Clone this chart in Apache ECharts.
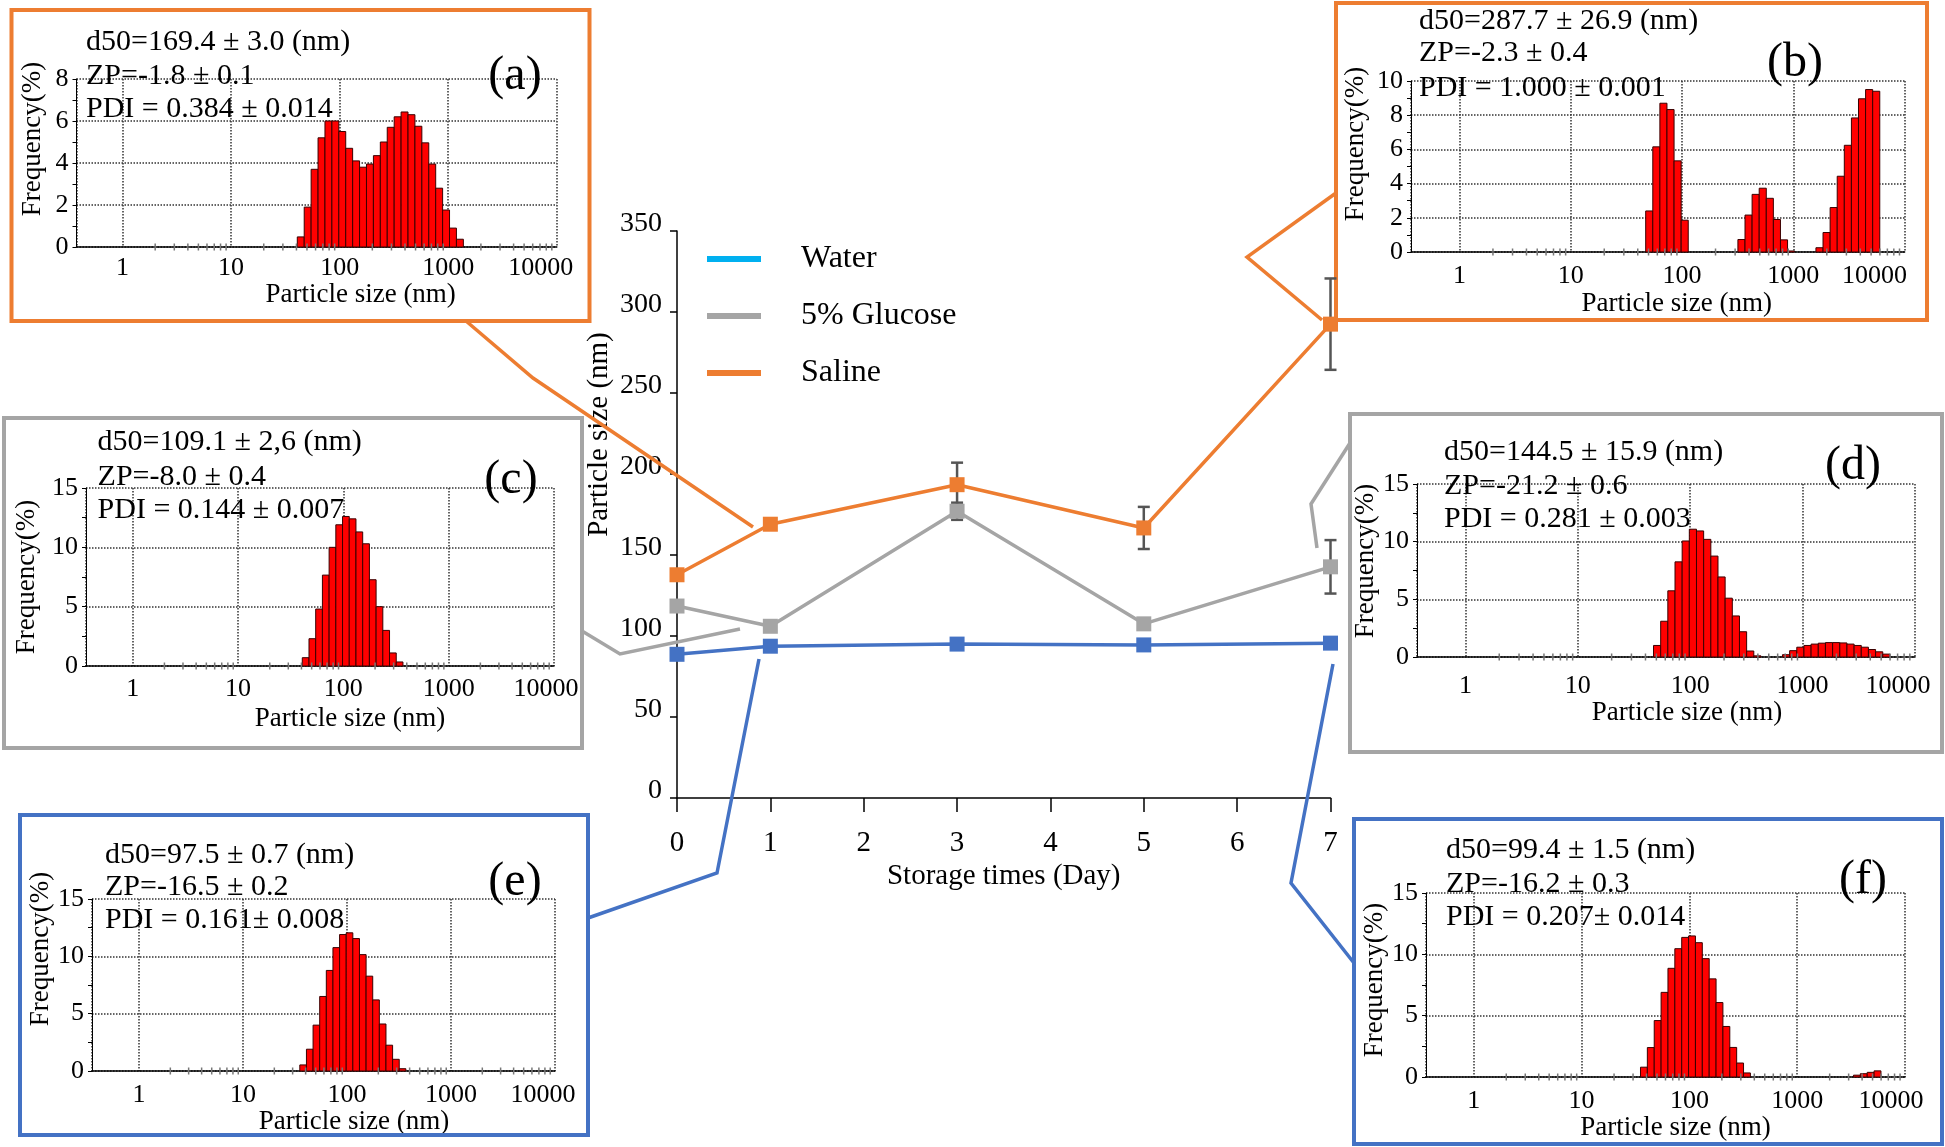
<!DOCTYPE html>
<html><head><meta charset="utf-8">
<script src="https://cdn.jsdelivr.net/npm/echarts@6/dist/echarts.min.js"></script>
<style>html,body{margin:0;padding:0;background:#fff}#c{width:1945px;height:1147px}</style>
</head><body><div id="c"></div>
<script>
const FONT = '"Liberation Serif", "Times New Roman", serif';

// ---------- main chart data ----------
const days = [0, 1, 3, 5, 7];
const water = [88.7, 93.7, 95.0, 94.5, 95.6];
const glucose = [118.5, 106.0, 177.0, 107.5, 142.7];
const saline = [137.8, 169.0, 193.4, 166.7, 292.5];
const waterErr = [1.5, 1.5, 1.5, 1.5, 1.5];
const glucoseErr = [2.0, 2.0, 5.3, 2.0, 16.5];
const salineErr = [2.0, 2.0, 13.6, 13.0, 28.2];
const seriesNames = ['Water', '5% Glucose', 'Saline'];

// ---------- inset size-distribution data (bin centre nm, frequency %) ----------
const sizesA = [43.82, 50.75, 58.77, 68.06, 78.82, 91.28, 105.7, 122.4, 141.8, 164.2, 190.1, 220.2, 255.0, 295.3, 342.0, 396.1, 458.7, 531.2, 615.1, 712.4, 825.0, 955.4, 1106, 1281];
const freqA  = [0.48, 1.9, 3.7, 5.2, 6.0, 6.0, 5.5, 4.7, 4.1, 3.8, 3.95, 4.35, 5.0, 5.7, 6.2, 6.43, 6.3, 5.75, 4.96, 3.95, 2.8, 1.76, 0.9, 0.37];

const sizesB = [50.75, 58.77, 68.06, 78.82, 91.28, 105.7, 342.0, 396.1, 458.7, 531.2, 615.1, 712.4, 825.0, 955.4, 1718, 1990, 2305, 2669, 3091, 3580, 4145, 4801, 5560];
const freqB  = [2.4, 6.15, 8.7, 8.33, 5.33, 1.86, 0.73, 2.16, 3.37, 3.73, 3.14, 1.9, 0.71, 0.06, 0.25, 1.14, 2.6, 4.43, 6.24, 7.84, 8.96, 9.5, 9.4];

const sizesC = [43.82, 50.75, 58.77, 68.06, 78.82, 91.28, 105.7, 122.4, 141.8, 164.2, 190.1, 220.2, 255.0, 295.3, 342.0];
const freqC  = [0.7, 2.3, 4.8, 7.66, 10.0, 11.9, 12.6, 12.4, 11.3, 10.3, 7.27, 5.0, 3.0, 1.1, 0.34];

const sizesD = [50.75, 58.77, 68.06, 78.82, 91.28, 105.7, 122.4, 141.8, 164.2, 190.1, 220.2, 255.0, 295.3, 342.0, 396.1, 712.4, 825.0, 955.4, 1106, 1281, 1484, 1718, 1990, 2305, 2669, 3091, 3580, 4145, 4801, 5560];
const freqD  = [1.0, 3.1, 5.74, 8.25, 10.06, 11.08, 10.93, 10.2, 8.75, 6.94, 5.1, 3.56, 2.19, 0.52, 0.1, 0.2, 0.55, 0.85, 1.0, 1.12, 1.2, 1.25, 1.25, 1.22, 1.12, 1.0, 0.85, 0.65, 0.45, 0.25];

const sizesE = [37.84, 43.82, 50.75, 58.77, 68.06, 78.82, 91.28, 105.7, 122.4, 141.8, 164.2, 190.1, 220.2, 255.0, 295.3, 342.0];
const freqE  = [0.53, 1.9, 4.0, 6.5, 8.77, 10.76, 11.9, 12.05, 11.55, 10.15, 8.27, 6.2, 4.1, 2.25, 1.02, 0.2];

const sizesF = [37.84, 43.82, 50.75, 58.77, 68.06, 78.82, 91.28, 105.7, 122.4, 141.8, 164.2, 190.1, 220.2, 255.0, 295.3, 342.0, 3580, 4145, 4801, 5560];
const freqF  = [0.8, 2.4, 4.6, 6.9, 8.86, 10.46, 11.38, 11.5, 10.95, 9.65, 8.0, 6.07, 4.12, 2.41, 1.14, 0.33, 0.15, 0.27, 0.38, 0.5];

const textsA = ['d50=169.4 ± 3.0 (nm)', 'ZP=-1.8 ± 0.1', 'PDI = 0.384 ± 0.014'];
const textsB = ['d50=287.7 ± 26.9 (nm)', 'ZP=-2.3 ± 0.4', 'PDI = 1.000 ± 0.001'];
const textsC = ['d50=109.1 ± 2,6 (nm)', 'ZP=-8.0 ± 0.4', 'PDI = 0.144 ± 0.007'];
const textsD = ['d50=144.5 ± 15.9 (nm)', 'ZP=-21.2 ± 0.6', 'PDI = 0.281 ± 0.003'];
const textsE = ['d50=97.5 ± 0.7 (nm)', 'ZP=-16.5 ± 0.2', 'PDI = 0.161± 0.008'];
const textsF = ['d50=99.4 ± 1.5 (nm)', 'ZP=-16.2 ± 0.3', 'PDI = 0.207± 0.014'];

const minorTickSizes = [2, 3, 4, 5, 6, 7, 8, 9, 20, 30, 40, 50, 60, 70, 80, 90, 200, 300, 400, 500, 600, 700, 800, 900, 2000, 3000, 4000, 5000, 6000, 7000, 8000, 9000];
const BIN_RATIO = 1.158; // log-spaced size classes

// ---------- colours & layout ----------
const C_WATER = '#4472C4', C_WATER_LEG = '#00B0F0', C_GLU = '#A5A5A5', C_SAL = '#ED7D31', C_ERR = '#555555';

const insets = [
  {tag:'(a)', sizes:sizesA, freq:freqA, texts:textsA, ymax:8, yint:2, color:C_SAL,
   grid:{left:76.5, right:556.8, top:79, bottom:247}, xmin:0.377, xLabelMargin:8, xNameGap:34.5, xNameShift:44, yNameGap:30.5, yNameShift:24, lastShift:16,
   textX:86, textY:[42,76,109], tagPos:[515,76], box:[11.5,10,578,311], connector:[[466,321],[533,378],[753,527]]},
  {tag:'(b)', sizes:sizesB, freq:freqB, texts:textsB, ymax:10, yint:2, color:C_SAL,
   grid:{left:1411, right:1904.6, top:81, bottom:252}, xmin:0.367, xLabelMargin:11.5, xNameGap:36.5, xNameShift:19, yNameGap:42, yNameShift:22.5, lastShift:30,
   textX:1419, textY:[21,53,88], tagPos:[1795,63], box:[1336,3,591,317], connector:[[1336,193],[1247,257],[1322,320]]},
  {tag:'(c)', sizes:sizesC, freq:freqC, texts:textsC, ymax:15, yint:5, color:C_GLU,
   grid:{left:86, right:554, top:488, bottom:666}, xmin:0.36, xLabelMargin:10, xNameGap:39.5, xNameShift:30, yNameGap:45.5, yNameShift:0, lastShift:8,
   textX:97.6, textY:[442,477,510.5], tagPos:[511,480], box:[4,418,578,330], connector:[[582,631],[620,654],[740,629]]},
  {tag:'(d)', sizes:sizesD, freq:freqD, texts:textsD, ymax:15, yint:5, color:C_GLU,
   grid:{left:1417, right:1915, top:484, bottom:657}, xmin:0.371, xLabelMargin:16, xNameGap:39.5, xNameShift:21, yNameGap:36.5, yNameShift:9.5, lastShift:17,
   textX:1444, textY:[452.5,486,519], tagPos:[1853,466], box:[1350,414,592,338], connector:[[1350,443],[1311,504],[1317,548]]},
  {tag:'(e)', sizes:sizesE, freq:freqE, texts:textsE, ymax:15, yint:5, color:C_WATER,
   grid:{left:92, right:555, top:899, bottom:1071}, xmin:0.353, xLabelMargin:11, xNameGap:37, xNameShift:30.5, yNameGap:34.5, yNameShift:36, lastShift:12,
   textX:105, textY:[855,887,920.5], tagPos:[515,882], box:[20,815,568,320], connector:[[588,918],[717,873],[759,659]]},
  {tag:'(f)', sizes:sizesF, freq:freqF, texts:textsF, ymax:15, yint:5, color:C_WATER,
   grid:{left:1426, right:1905, top:893, bottom:1077}, xmin:0.36, xLabelMargin:11, xNameGap:33.5, xNameShift:10, yNameGap:34, yNameShift:5, lastShift:14,
   textX:1446, textY:[850.5,883.7,917], tagPos:[1863,880], box:[1354,819,588,325], connector:[[1354,963],[1291,883],[1333,664]]}
];

function shiftPad(s) { return s >= 0 ? [0, 0, 0, 2 * s] : [0, -2 * s, 0, 0]; }
function decadeFormatter(v) {
  const l = Math.log10(v);
  if (Math.abs(l - Math.round(l)) > 1e-4) return '';
  const r = Math.round(v);
  return r >= 10000 ? '{last|' + r + '}' : String(r);
}

const grids = [{left:677, top:231, width:653.5, height:567}];
const xAxes = [{
  gridIndex:0, type:'value', min:0, max:7, interval:1,
  axisLine:{show:true, onZero:false, lineStyle:{color:'#000', width:1.5}},
  axisTick:{show:true, length:14, lineStyle:{color:'#000', width:1.5}},
  axisLabel:{fontFamily:FONT, fontSize:29, color:'#000', margin:31},
  splitLine:{show:false},
  name:'Storage times (Day)', nameLocation:'middle', nameGap:64,
  nameTextStyle:{fontFamily:FONT, fontSize:29, color:'#000'}
}];
const yAxes = [{
  gridIndex:0, type:'value', min:0, max:350, interval:50,
  axisLine:{show:true, lineStyle:{color:'#000', width:1.5}},
  axisTick:{show:true, length:7, lineStyle:{color:'#000', width:1.5}},
  axisLabel:{fontFamily:FONT, fontSize:28, color:'#000', margin:15, verticalAlign:'bottom', lineHeight:14},
  splitLine:{show:false},
  name:'Particle size (nm)', nameLocation:'middle', nameGap:63,
  nameTextStyle:{fontFamily:FONT, fontSize:29, color:'#000', padding:[0,0,0,160]}
}];

function errorSeries(name, vals, errs, z) {
  return {
    type:'custom', name:name, xAxisIndex:0, yAxisIndex:0, z:z, silent:true,
    data: days.map((d, i) => [d, vals[i] - errs[i], vals[i] + errs[i]]),
    renderItem: function (params, api) {
      const lo = api.coord([api.value(0), api.value(1)]);
      const hi = api.coord([api.value(0), api.value(2)]);
      const w = 6;
      return {type:'group', children:[
        {type:'line', shape:{x1:lo[0], y1:lo[1], x2:hi[0], y2:hi[1]}, style:{stroke:C_ERR, lineWidth:2.5}},
        {type:'line', shape:{x1:lo[0]-w, y1:lo[1], x2:lo[0]+w, y2:lo[1]}, style:{stroke:C_ERR, lineWidth:2.5}},
        {type:'line', shape:{x1:hi[0]-w, y1:hi[1], x2:hi[0]+w, y2:hi[1]}, style:{stroke:C_ERR, lineWidth:2.5}}
      ]};
    }
  };
}
function lineSeries(name, vals, color, z) {
  return {
    type:'line', name:name, xAxisIndex:0, yAxisIndex:0, z:z,
    data: days.map((d, i) => [d, vals[i]]),
    symbol:'rect', symbolSize:15, showAllSymbol:true,
    lineStyle:{width:3.5, color:color}, itemStyle:{color:color}
  };
}

const series = [
  errorSeries('err-water', water, waterErr, 2),
  errorSeries('err-glucose', glucose, glucoseErr, 2),
  errorSeries('err-saline', saline, salineErr, 2),
  lineSeries('Water', water, C_WATER, 3),
  lineSeries('5% Glucose', glucose, C_GLU, 4),
  lineSeries('Saline', saline, C_SAL, 5)
];

const graphic = [];
const half = Math.sqrt(BIN_RATIO);

insets.forEach((ins, k) => {
  const gi = k + 1;
  grids.push({left:ins.grid.left, top:ins.grid.top, width:ins.grid.right - ins.grid.left, height:ins.grid.bottom - ins.grid.top});
  xAxes.push({
    gridIndex:gi, type:'log', logBase:10, min:ins.xmin, max:10000,
    axisLine:{show:true, onZero:false, lineStyle:{color:'#000', width:1.5}},
    axisTick:{show:false},
    axisLabel:{fontFamily:FONT, fontSize:26, color:'#000', margin:ins.xLabelMargin, formatter:decadeFormatter, showMinLabel:false,
      rich:{last:{fontFamily:FONT, fontSize:26, color:'#000', padding:[0, 2 * ins.lastShift, 0, 0]}}},
    splitLine:{show:true, lineStyle:{type:'dotted', color:'#333', width:1.5}},
    name:'Particle size (nm)', nameLocation:'middle', nameGap:ins.xNameGap,
    nameTextStyle:{fontFamily:FONT, fontSize:27, color:'#000', padding:shiftPad(ins.xNameShift)}
  });
  yAxes.push({
    gridIndex:gi, type:'value', min:0, max:ins.ymax, interval:ins.yint,
    axisLine:{show:true, lineStyle:{color:'#000', width:1}},
    axisTick:{show:true, length:4, lineStyle:{color:'#000', width:1}},
    minorTick:{show:true, splitNumber:2, length:4, lineStyle:{color:'#000', width:1}},
    axisLabel:{fontFamily:FONT, fontSize:26, color:'#000', margin:8},
    splitLine:{show:true, lineStyle:{type:'dotted', color:'#333', width:1.5}},
    name:'Frequency(%)', nameLocation:'middle', nameRotate:90, nameGap:ins.yNameGap,
    nameTextStyle:{fontFamily:FONT, fontSize:27, color:'#000', padding:shiftPad(ins.yNameShift)}
  });
  series.push({
    type:'custom', name:'hist' + ins.tag, xAxisIndex:gi, yAxisIndex:gi, z:3, silent:true,
    data: ins.sizes.map((s, i) => [s, ins.freq[i]]),
    renderItem: function (params, api) {
      const s = api.value(0), f = api.value(1);
      const p0 = api.coord([s / half, f]);
      const p1 = api.coord([s * half, 0]);
      return {type:'rect', shape:{x:p0[0], y:p0[1], width:p1[0] - p0[0], height:p1[1] - p0[1]},
              style:{fill:'#FF0000', stroke:'#3a0000', lineWidth:1}};
    }
  });
  series.push({
    type:'custom', name:'minor' + ins.tag, xAxisIndex:gi, yAxisIndex:gi, z:4, silent:true,
    data: minorTickSizes.map(v => [v, 0]),
    renderItem: function (params, api) {
      const p = api.coord([api.value(0), 0]);
      return {type:'line', shape:{x1:p[0], y1:p[1] - 3.5, x2:p[0], y2:p[1] + 3.5}, style:{stroke:'#777', lineWidth:1.5}};
    }
  });
  graphic.push({type:'rect', z:1, silent:true, shape:{x:ins.box[0], y:ins.box[1], width:ins.box[2], height:ins.box[3]},
                style:{fill:'none', stroke:ins.color, lineWidth:4}});
  graphic.push({type:'polyline', z:1, silent:true, shape:{points:ins.connector}, style:{fill:'none', stroke:ins.color, lineWidth:3.5}});
  ins.texts.forEach((t, j) => {
    graphic.push({type:'text', z:10, silent:true, x:ins.textX, y:ins.textY[j],
      style:{text:t, fontFamily:FONT, fontSize:30, fill:'#000', align:'left', verticalAlign:'middle', textAlign:'left', textVerticalAlign:'middle'}});
  });
  graphic.push({type:'text', z:10, silent:true, x:ins.tagPos[0], y:ins.tagPos[1],
    style:{text:ins.tag, fontFamily:FONT, fontSize:48, fill:'#000', align:'center', verticalAlign:'middle', textAlign:'center', textVerticalAlign:'middle'}});
});

const option = {
  animation:false,
  backgroundColor:'#fff',
  legend:{
    orient:'vertical', left:707, top:243, padding:0, itemGap:25,
    itemWidth:54, itemHeight:6, icon:'rect', selectedMode:false,
    textStyle:{fontFamily:FONT, fontSize:32, color:'#000', padding:[0,0,0,35]},
    data:[
      {name:seriesNames[0], itemStyle:{color:C_WATER_LEG}},
      {name:seriesNames[1], itemStyle:{color:C_GLU}},
      {name:seriesNames[2], itemStyle:{color:C_SAL}}
    ]
  },
  grid:grids, xAxis:xAxes, yAxis:yAxes, series:series, graphic:graphic
};

const chart = echarts.init(document.getElementById('c'));
chart.setOption(option);
</script></body></html>
